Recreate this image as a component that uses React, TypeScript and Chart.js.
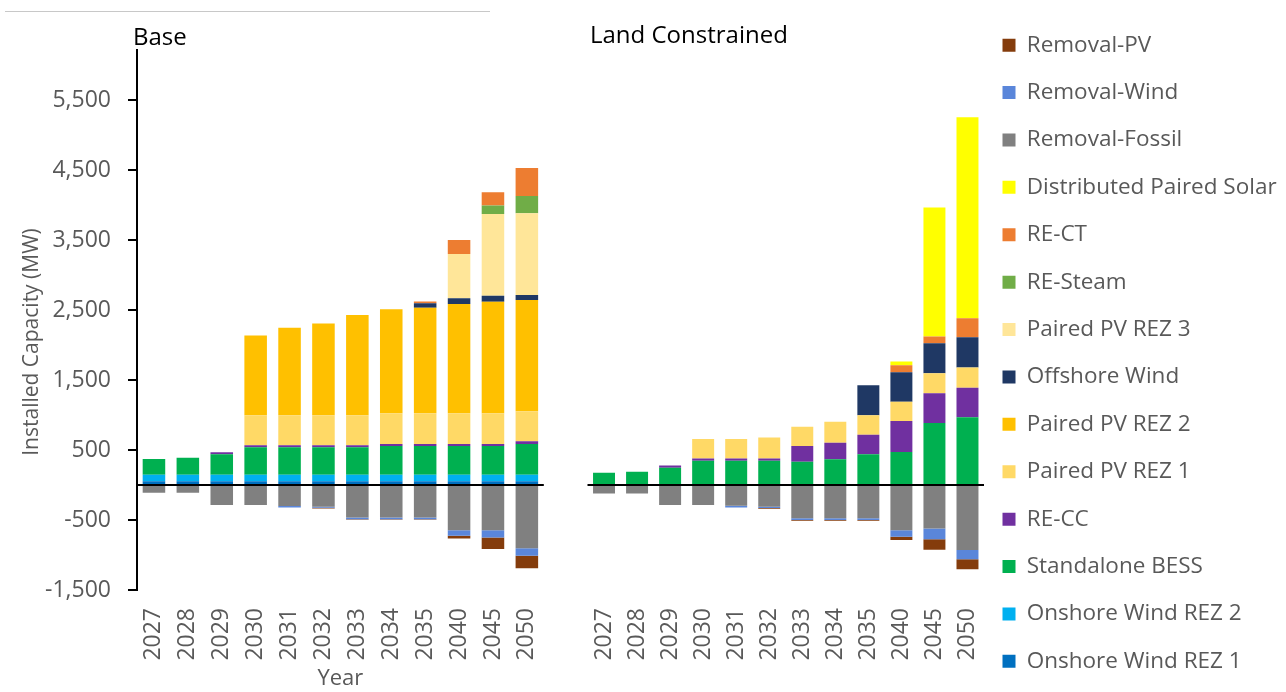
import { useEffect, useRef } from 'react';
import { Chart, registerables } from 'chart.js';

Chart.register(...registerables);

const FONT = "'Open Sans', 'DejaVu Sans', sans-serif";

// ---------- categories & ticks ----------
const years = ['2027', '2028', '2029', '2030', '2031', '2032', '2033', '2034', '2035', '2040', '2045', '2050'];
const yTickValues = [-1500, -500, 500, 1500, 2500, 3500, 4500, 5500];

// ---------- series (dataset order = bottom of stack first) ----------
const seriesNames = [
  'Onshore Wind REZ 1',
  'Onshore Wind REZ 2',
  'Standalone BESS',
  'RE-CC',
  'Paired PV REZ 1',
  'Paired PV REZ 2',
  'Offshore Wind',
  'Paired PV REZ 3',
  'RE-Steam',
  'RE-CT',
  'Distributed Paired Solar',
  'Removal-Fossil',
  'Removal-Wind',
  'Removal-PV',
];
const seriesColors = [
  '#0070C0',
  '#00B0F0',
  '#00B050',
  '#7030A0',
  '#FFD966',
  '#FFC000',
  '#1F3864',
  '#FFE699',
  '#70AD47',
  '#ED7D31',
  '#FFFF00',
  '#808080',
  '#5A86DA',
  '#843C0C',
];

// ---------- Base scenario (MW) ----------
const baseOnshoreWindRez1 = [55, 55, 55, 55, 55, 55, 55, 55, 55, 55, 55, 55];
const baseOnshoreWindRez2 = [90, 90, 90, 90, 90, 90, 90, 90, 90, 90, 90, 90];
const baseStandaloneBess = [226, 245, 293, 393, 393, 393, 393, 412, 412, 412, 412, 441];
const baseReCc = [0, 0, 29, 29, 29, 29, 29, 29, 29, 29, 29, 38];
const basePairedPvRez1 = [0, 0, 0, 430, 430, 430, 430, 440, 440, 440, 440, 430];
const basePairedPvRez2 = [0, 0, 0, 1140, 1250, 1310, 1430, 1485, 1505, 1560, 1590, 1590];
const baseOffshoreWind = [0, 0, 0, 0, 0, 0, 0, 0, 67, 81, 86, 71];
const basePairedPvRez3 = [0, 0, 0, 0, 0, 0, 0, 0, 0, 633, 1171, 1167];
const baseReSteam = [0, 0, 0, 0, 0, 0, 0, 0, 0, 0, 119, 248];
const baseReCt = [0, 0, 0, 0, 0, 0, 0, 0, 25, 200, 190, 400];
const baseDistributedSolar = [0, 0, 0, 0, 0, 0, 0, 0, 0, 0, 0, 0];
const baseRemovalFossil = [-110, -110, -285, -285, -300, -310, -465, -465, -465, -645, -645, -905];
const baseRemovalWind = [0, 0, 0, 0, -20, -15, -25, -25, -25, -80, -105, -105];
const baseRemovalPv = [0, 0, 0, 0, 0, -10, -5, -5, -5, -40, -165, -180];

// ---------- Land Constrained scenario (MW) ----------
const landOnshoreWindRez1 = [0, 0, 0, 0, 0, 0, 0, 0, 0, 0, 0, 0];
const landOnshoreWindRez2 = [0, 0, 0, 0, 0, 0, 0, 0, 0, 0, 0, 0];
const landStandaloneBess = [176, 190, 248, 348, 348, 348, 333, 367, 438, 471, 886, 967];
const landReCc = [0, 0, 29, 29, 29, 29, 224, 238, 281, 443, 424, 424];
const landPairedPvRez1 = [0, 0, 0, 281, 281, 300, 276, 300, 276, 276, 286, 286];
const landPairedPvRez2 = [0, 0, 0, 0, 0, 0, 0, 0, 0, 0, 0, 0];
const landOffshoreWind = [0, 0, 0, 0, 0, 0, 0, 0, 429, 419, 429, 433];
const landPairedPvRez3 = [0, 0, 0, 0, 0, 0, 0, 0, 0, 0, 0, 0];
const landReSteam = [0, 0, 0, 0, 0, 0, 0, 0, 0, 0, 0, 0];
const landReCt = [0, 0, 0, 0, 0, 0, 0, 0, 0, 100, 95, 271];
const landDistributedSolar = [0, 0, 0, 0, 0, 0, 0, 0, 0, 57, 1843, 2871];
const landRemovalFossil = [-120, -120, -285, -285, -295, -310, -475, -475, -475, -645, -620, -930];
const landRemovalWind = [0, 0, 0, 0, -25, -20, -25, -25, -25, -95, -155, -130];
const landRemovalPv = [0, 0, 0, 0, 0, -10, -10, -10, -10, -45, -150, -145];

const baseSeries = [
  baseOnshoreWindRez1, baseOnshoreWindRez2, baseStandaloneBess, baseReCc, basePairedPvRez1,
  basePairedPvRez2, baseOffshoreWind, basePairedPvRez3, baseReSteam, baseReCt,
  baseDistributedSolar, baseRemovalFossil, baseRemovalWind, baseRemovalPv,
];
const landSeries = [
  landOnshoreWindRez1, landOnshoreWindRez2, landStandaloneBess, landReCc, landPairedPvRez1,
  landPairedPvRez2, landOffshoreWind, landPairedPvRez3, landReSteam, landReCt,
  landDistributedSolar, landRemovalFossil, landRemovalWind, landRemovalPv,
];

function buildDatasets(values: number[][]) {
  return values.map((data, i) => ({
    label: seriesNames[i],
    data,
    backgroundColor: seriesColors[i],
    borderColor: seriesColors[i],
    borderWidth: 0,
    barPercentage: 0.665,
    categoryPercentage: 1,
  }));
}

const zeroLinePlugin = {
  id: 'zeroLine',
  afterDatasetsDraw(chart: any) {
    const { ctx, chartArea, scales } = chart;
    const y = scales.y.getPixelForValue(0);
    ctx.save();
    ctx.strokeStyle = '#000';
    ctx.lineWidth = 2;
    ctx.beginPath();
    ctx.moveTo(chartArea.left, y);
    ctx.lineTo(chartArea.right, y);
    ctx.stroke();
    ctx.restore();
  },
};

type TextItem = { text: string; x: number; y: number; size: number; color: string; rotate?: number; align?: CanvasTextAlign };

function makeTextPlugin(items: TextItem[]) {
  return {
    id: 'panelText',
    afterDraw(chart: any) {
      const ctx = chart.ctx;
      items.forEach((it) => {
        ctx.save();
        ctx.font = `${it.size}px ${FONT}`;
        ctx.fillStyle = it.color;
        ctx.textBaseline = 'middle';
        ctx.textAlign = it.align || 'left';
        ctx.translate(it.x, it.y);
        if (it.rotate) ctx.rotate(it.rotate);
        ctx.fillText(it.text, 0, 0);
        ctx.restore();
      });
    },
  };
}

function makeLegendShift(targetLeft: number) {
  return {
    id: 'legendShift',
    afterLayout(chart: any) {
      const lg = chart.legend;
      if (lg) {
        lg.left = targetLeft;
        lg.right = chart.width;
        lg.width = chart.width - targetLeft;
      }
    },
  };
}

const xTicks = {
  autoSkip: false,
  maxRotation: 90,
  minRotation: 90,
  padding: 10,
  color: '#595959',
  font: { family: FONT, size: 23 },
};

export default function App() {
  const leftRef = useRef<HTMLCanvasElement>(null);
  const rightRef = useRef<HTMLCanvasElement>(null);

  useEffect(() => {
    Chart.defaults.font.family = FONT;

    const left = new Chart(leftRef.current as HTMLCanvasElement, {
      type: 'bar',
      data: { labels: years, datasets: buildDatasets(baseSeries) as any },
      plugins: [
        zeroLinePlugin,
        makeTextPlugin([
          { text: 'Base', x: 133, y: 38, size: 24, color: '#000' },
          { text: 'Installed Capacity (MW)', x: 32, y: 342, size: 21, color: '#595959', rotate: -Math.PI / 2, align: 'center' },
        ]),
      ] as any,
      options: {
        animation: false,
        responsive: false,
        maintainAspectRatio: false,
        layout: { padding: { top: 50, left: 0, right: 13, bottom: 0 } },
        plugins: { legend: { display: false }, tooltip: { enabled: false } },
        scales: {
          x: {
            stacked: true,
            grid: { display: false },
            border: { display: false },
            ticks: xTicks,
            title: {
              display: true,
              text: 'Year',
              color: '#595959',
              font: { family: FONT, size: 22 },
              padding: { top: 0, bottom: 0 },
            },
            afterFit: (s: any) => { s.height = 102; },
          },
          y: {
            stacked: true,
            min: -1500,
            max: 6214,
            afterBuildTicks: (s: any) => { s.ticks = yTickValues.map((v) => ({ value: v })); },
            ticks: {
              color: '#595959',
              font: { family: FONT, size: 23 },
              padding: 17,
              callback: (v: any) => Number(v).toLocaleString('en-US'),
            },
            grid: { drawOnChartArea: false, drawTicks: true, tickLength: 9, color: '#000', lineWidth: 2 },
            border: { display: true, color: '#000', width: 2 },
            afterFit: (s: any) => { s.width = 137; },
          },
        },
      } as any,
    });

    const right = new Chart(rightRef.current as HTMLCanvasElement, {
      type: 'bar',
      data: { labels: years, datasets: buildDatasets(landSeries) as any },
      plugins: [
        zeroLinePlugin,
        makeTextPlugin([{ text: 'Land Constrained', x: 30, y: 36, size: 24, color: '#000' }]),
        makeLegendShift(417.6),
      ] as any,
      options: {
        animation: false,
        responsive: false,
        maintainAspectRatio: false,
        layout: { padding: { top: 9, left: 27.5, right: 20, bottom: 0 } },
        plugins: {
          tooltip: { enabled: false },
          legend: {
            display: true,
            position: 'right',
            align: 'start',
            reverse: true,
            maxWidth: 282,
            labels: {
              boxWidth: 13,
              boxHeight: 13,
              padding: 24.9,
              color: '#595959',
              textAlign: 'left',
              font: { family: FONT, size: 22.5 },
            },
          },
        },
        scales: {
          x: {
            stacked: true,
            grid: { display: false },
            border: { display: false },
            ticks: xTicks,
            afterFit: (s: any) => { s.height = 130; },
          },
          y: {
            display: false,
            stacked: true,
            min: -1500,
            max: 6800,
          },
        },
      } as any,
    });

    return () => {
      left.destroy();
      right.destroy();
    };
  }, []);

  return (
    <div style={{ position: 'fixed', left: 0, top: 0, width: 1286, height: 692, overflow: 'hidden', background: '#fff' }}>
      <div style={{ position: 'absolute', left: 5, top: 11, width: 485, height: 1, background: '#c8c8c8' }} />
      <canvas ref={leftRef} width={565} height={692} style={{ position: 'absolute', left: 0, top: 0, width: 565, height: 692 }} />
      <canvas ref={rightRef} width={726} height={720} style={{ position: 'absolute', left: 560, top: 0, width: 726, height: 720 }} />
    </div>
  );
}
